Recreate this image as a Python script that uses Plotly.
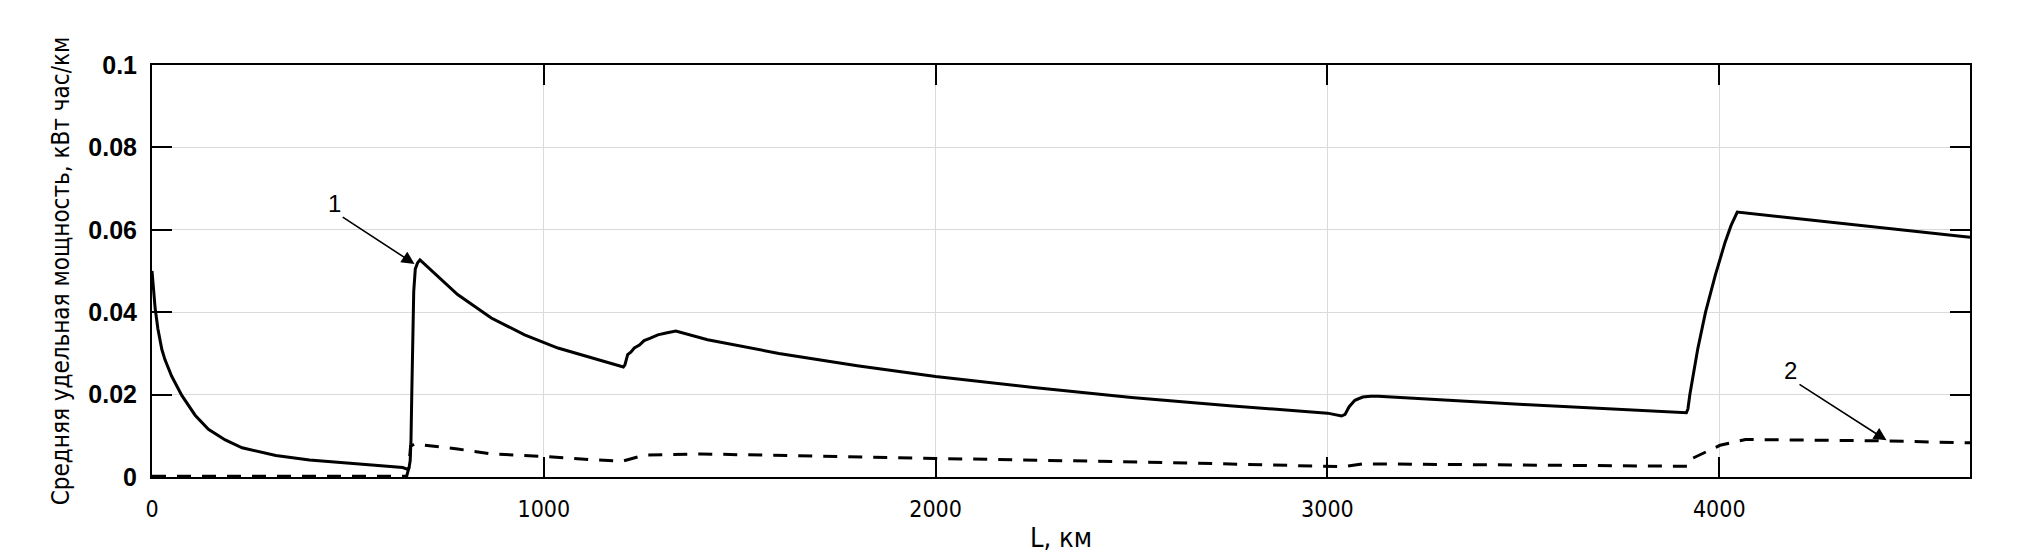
import plotly.graph_objects as go

# curve 1 - solid line
km_1 = [0, 4, 8, 15, 25, 33, 50, 76, 110, 144, 187, 230, 316, 402, 488, 574,
        640, 651, 656, 659, 661, 663, 665, 668, 672, 678, 684, 721, 780, 866,
        951, 1036, 1121, 1203, 1207, 1210, 1214, 1222, 1231, 1244, 1256, 1272,
        1291, 1315, 1337, 1418, 1600, 1800, 2000, 2250, 2500, 2750, 3000,
        3036, 3045, 3055, 3070, 3090, 3110, 3130, 3500, 3916, 3920, 3925, 3935,
        3945, 3965, 3990, 4015, 4030, 4046, 4640]
power_1 = [0.050, 0.045, 0.041, 0.036, 0.0310, 0.0285, 0.0245, 0.0198, 0.015,
           0.0116, 0.009, 0.0071, 0.0052, 0.0041, 0.0034, 0.0028,
           0.0023, 0.0019, 0.0022, 0.0040, 0.0090, 0.020, 0.033, 0.045, 0.0505,
           0.0520, 0.0527, 0.0495, 0.0443, 0.0386,
           0.0345, 0.0313, 0.0289, 0.0267, 0.0272, 0.0285, 0.0297, 0.0303,
           0.0313, 0.0320, 0.0331, 0.0337, 0.0345, 0.0350, 0.0354, 0.0333,
           0.0300, 0.0270, 0.0244, 0.0217, 0.0193, 0.0173, 0.0155, 0.0148,
           0.0152, 0.0170, 0.0186, 0.0194, 0.0196, 0.0196, 0.0176, 0.0156,
           0.0165, 0.020, 0.026, 0.031, 0.040, 0.049, 0.057, 0.061, 0.0643,
           0.0582]

# curve 2 - dashed line
km_2 = [0, 650, 655, 660, 670, 780, 866, 1000, 1121, 1200, 1256, 1400, 2000,
        2600, 3040, 3090, 3500, 3920, 3931, 4002, 4067, 4400, 4640]
power_2 = [0.0002, 0.0002, 0.002, 0.0075, 0.008, 0.0068, 0.0056, 0.0050,
           0.0042, 0.0038, 0.0053, 0.0056, 0.0045, 0.0035, 0.0025, 0.0032,
           0.0029, 0.0026, 0.0045, 0.0077, 0.0091, 0.0088, 0.0083]

x_ticks = [0, 1000, 2000, 3000, 4000]
y_ticks = [0, 0.02, 0.04, 0.06, 0.08, 0.1]
y_tick_text = ["0", "0.02", "0.04", "0.06", "0.08", "0.1"]

fig = go.Figure()
fig.add_trace(go.Scatter(
    x=km_1, y=power_1, mode="lines",
    line=dict(color="black", width=3)
))
fig.add_trace(go.Scatter(
    x=km_2, y=power_2, mode="lines",
    line=dict(color="black", width=3, dash="14px,11px")
))

# numbered callouts with arrows
fig.add_annotation(x=670, y=0.0517, ax=483, ay=0.0633, xref="x", yref="y",
                   axref="x", ayref="y", text="", showarrow=True,
                   arrowhead=2, arrowsize=1.6, arrowwidth=1.6, arrowcolor="black")
fig.add_annotation(x=466, y=0.0665, text="1", showarrow=False,
                   font=dict(family="Liberation Sans", size=24, color="black"))
fig.add_annotation(x=4427, y=0.0089, ax=4201, ay=0.0227, xref="x", yref="y",
                   axref="x", ayref="y", text="", showarrow=True,
                   arrowhead=2, arrowsize=1.6, arrowwidth=1.6, arrowcolor="black")
fig.add_annotation(x=4182, y=0.0259, text="2", showarrow=False,
                   font=dict(family="Liberation Sans", size=24, color="black"))

fig.update_layout(
    width=2020, height=557,
    margin=dict(l=144, r=58, t=57, b=88),
    paper_bgcolor="white",
    plot_bgcolor="white",
    showlegend=False,
    xaxis=dict(
        range=[0, 4640],
        tickvals=x_ticks,
        ticks="inside", ticklen=20, tickwidth=2, tickcolor="black",
        showline=True, linecolor="black", linewidth=2, mirror="ticks",
        showgrid=True, gridcolor="#dadada", gridwidth=1,
        zeroline=False,
        tickfont=dict(family="DejaVu Sans Condensed, Liberation Sans", size=23, color="black"),
        ticklabelstandoff=10,
        title=dict(text="L, км", standoff=8,
                   font=dict(family="DejaVu Sans Condensed, Roboto", size=27, color="black")),
    ),
    yaxis=dict(
        range=[0, 0.1],
        tickvals=y_ticks, ticktext=y_tick_text,
        ticks="inside", ticklen=20, tickwidth=2, tickcolor="black",
        showline=True, linecolor="black", linewidth=2, mirror="ticks",
        showgrid=True, gridcolor="#dadada", gridwidth=1,
        zeroline=False,
        tickfont=dict(family="Liberation Sans", size=25, color="black", weight="bold"),
        ticklabelstandoff=8,
        title=dict(text="Средняя удельная мощность, кВт час/км", standoff=12,
                   font=dict(family="DejaVu Sans Condensed, Roboto", size=24, color="black")),
    ),
)

fig.write_html("out.html")
